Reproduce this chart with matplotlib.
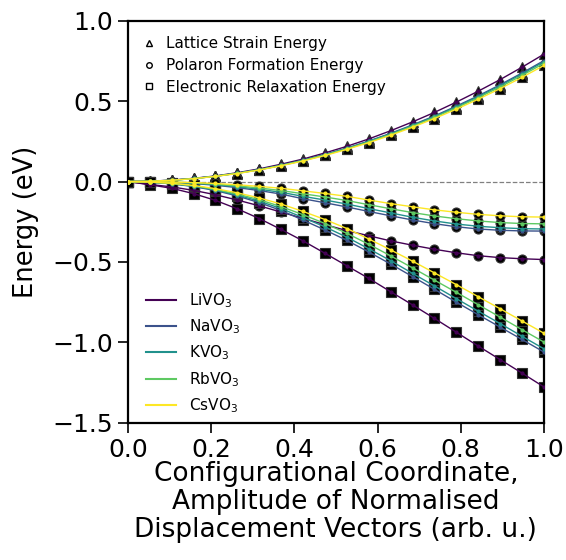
import numpy as np
import matplotlib
matplotlib.use("Agg")
import matplotlib.pyplot as plt
from matplotlib.lines import Line2D

# Configurational coordinate (20 displacement steps)
x = np.linspace(0, 1, 20)

compounds = ["LiVO$_3$", "NaVO$_3$", "KVO$_3$", "RbVO$_3$", "CsVO$_3$"]

# Lattice strain energy (eV)
strain_li = [0, 0.002, 0.009, 0.020, 0.035, 0.055, 0.079, 0.108, 0.140, 0.178,
             0.219, 0.265, 0.316, 0.371, 0.430, 0.494, 0.562, 0.634, 0.711, 0.792]
strain_na = [0, 0.002, 0.008, 0.019, 0.033, 0.052, 0.075, 0.102, 0.133, 0.169,
             0.208, 0.252, 0.300, 0.352, 0.408, 0.469, 0.533, 0.602, 0.675, 0.752]
strain_k = [0, 0.002, 0.008, 0.019, 0.033, 0.052, 0.074, 0.101, 0.132, 0.167,
            0.206, 0.250, 0.297, 0.349, 0.404, 0.464, 0.528, 0.596, 0.669, 0.745]
strain_rb = [0, 0.002, 0.008, 0.018, 0.033, 0.051, 0.073, 0.100, 0.130, 0.165,
             0.204, 0.246, 0.293, 0.344, 0.399, 0.458, 0.521, 0.588, 0.660, 0.735]
strain_cs = [0, 0.002, 0.008, 0.018, 0.032, 0.050, 0.072, 0.098, 0.128, 0.162,
             0.200, 0.242, 0.288, 0.338, 0.392, 0.450, 0.512, 0.578, 0.648, 0.722]

# Polaron formation energy (eV)
polaron_li = [0, -0.018, -0.033, -0.055, -0.082, -0.115, -0.151, -0.190, -0.229, -0.268,
              -0.305, -0.337, -0.369, -0.396, -0.421, -0.443, -0.461, -0.473, -0.480, -0.485]
polaron_na = [0, -0.002, -0.006, -0.012, -0.023, -0.038, -0.056, -0.078, -0.107, -0.132,
              -0.158, -0.186, -0.213, -0.239, -0.262, -0.281, -0.295, -0.303, -0.307, -0.308]
polaron_k = [0, -0.002, -0.005, -0.010, -0.019, -0.032, -0.048, -0.067, -0.092, -0.115,
             -0.140, -0.168, -0.195, -0.222, -0.245, -0.264, -0.278, -0.287, -0.293, -0.295]
polaron_rb = [0, -0.001, -0.004, -0.008, -0.016, -0.027, -0.040, -0.056, -0.076, -0.096,
              -0.118, -0.144, -0.169, -0.193, -0.214, -0.231, -0.245, -0.255, -0.261, -0.263]
polaron_cs = [0, -0.001, -0.003, -0.006, -0.012, -0.020, -0.030, -0.042, -0.058, -0.074,
              -0.092, -0.115, -0.137, -0.157, -0.176, -0.191, -0.204, -0.213, -0.219, -0.221]

# Electronic relaxation energy (eV)
elec_li = [0, -0.020, -0.042, -0.075, -0.117, -0.170, -0.230, -0.298, -0.369, -0.446,
           -0.524, -0.602, -0.685, -0.767, -0.851, -0.937, -1.023, -1.107, -1.191, -1.277]
elec_na = [0, -0.004, -0.014, -0.031, -0.056, -0.090, -0.131, -0.180, -0.240, -0.301,
           -0.366, -0.438, -0.513, -0.591, -0.670, -0.750, -0.828, -0.905, -0.982, -1.060]
elec_k = [0, -0.004, -0.013, -0.029, -0.052, -0.084, -0.122, -0.168, -0.224, -0.282,
          -0.346, -0.418, -0.492, -0.571, -0.649, -0.728, -0.806, -0.883, -0.962, -1.040]
elec_rb = [0, -0.003, -0.012, -0.026, -0.049, -0.078, -0.113, -0.156, -0.206, -0.261,
           -0.322, -0.390, -0.462, -0.537, -0.613, -0.689, -0.766, -0.843, -0.921, -0.998]
elec_cs = [0, -0.003, -0.011, -0.024, -0.044, -0.070, -0.102, -0.140, -0.186, -0.236,
           -0.292, -0.357, -0.425, -0.495, -0.568, -0.641, -0.716, -0.791, -0.867, -0.943]

strain = [strain_li, strain_na, strain_k, strain_rb, strain_cs]
polaron = [polaron_li, polaron_na, polaron_k, polaron_rb, polaron_cs]
elec = [elec_li, elec_na, elec_k, elec_rb, elec_cs]

colors = plt.cm.viridis(np.linspace(0, 1, 5))

fig = plt.figure(figsize=(5.66, 5.6), dpi=100)
ax = fig.add_axes([0.226, 0.245, 0.735, 0.718])

ax.axhline(0, color="grey", ls="--", lw=0.9, zorder=0)

for i in range(5):
    for data, mk in [(strain[i], "^"), (polaron[i], "o"), (elec[i], "s")]:
        ax.plot(x, data, ls="none", marker=mk, ms=6.5, color="black",
                mec="#333333", mew=0.8, zorder=2)
        ax.plot(x, data, color=colors[i], lw=1, marker="o", ms=2,
                zorder=3)

# legends
mk_handles = [
    Line2D([], [], ls="none", marker="^", ms=4, mfc="white", mec="black", label="Lattice Strain Energy"),
    Line2D([], [], ls="none", marker="o", ms=4, mfc="white", mec="black", label="Polaron Formation Energy"),
    Line2D([], [], ls="none", marker="s", ms=4, mfc="white", mec="black", label="Electronic Relaxation Energy"),
]
leg1 = ax.legend(handles=mk_handles, loc="upper left", frameon=False, fontsize=11,
                 handlelength=0.8, handletextpad=0.7, labelspacing=0.45,
                 borderaxespad=0.6)
ax.add_artist(leg1)

line_handles = [Line2D([], [], color=colors[i], lw=1.5, label=compounds[i]) for i in range(5)]
ax.legend(handles=line_handles, loc="lower left", frameon=False, fontsize=11,
          handlelength=2.0, labelspacing=0.5, borderaxespad=0.5,
          bbox_to_anchor=(0.01, -0.015))

ax.set_xlim(0, 1)
ax.set_ylim(-1.5, 1.0)
ax.set_xticks([0, 0.2, 0.4, 0.6, 0.8, 1.0])
ax.set_yticks([-1.5, -1.0, -0.5, 0.0, 0.5, 1.0])
ax.tick_params(labelsize=18, length=7, width=1.2, pad=4)
for sp in ax.spines.values():
    sp.set_linewidth(1.6)

ax.set_xlabel("Configurational Coordinate,\nAmplitude of Normalised\nDisplacement Vectors (arb. u.)",
              fontsize=19, linespacing=1.12, labelpad=-1)
ax.set_ylabel("Energy (eV)", fontsize=18.5, labelpad=9)

fig.savefig("out.png", dpi=100)
